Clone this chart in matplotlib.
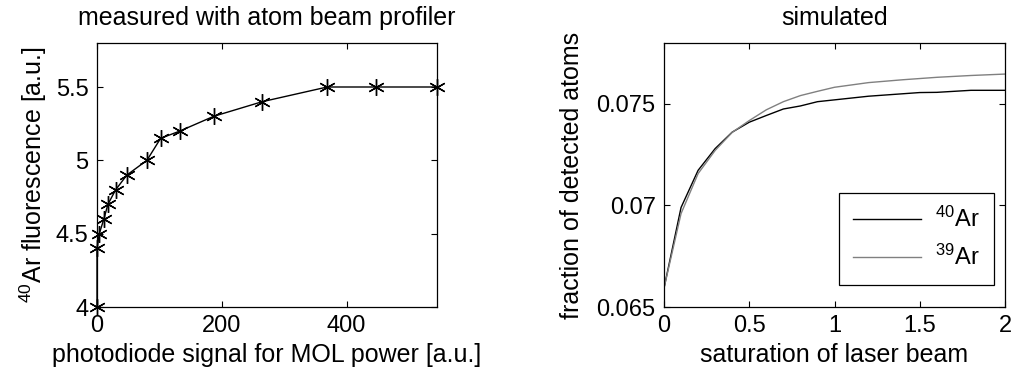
import matplotlib
matplotlib.use('Agg')
import matplotlib.pyplot as plt

plt.rcParams['font.family'] = ['Liberation Sans', 'DejaVu Sans']
plt.rcParams['mathtext.default'] = 'regular'

# ---- data, left panel (measured) ----
photodiode = [0, 0, 3.7, 11, 17.5, 30, 48, 80, 102, 133, 187, 265, 369, 448, 545]
fluo40 = [4.0, 4.4, 4.5, 4.6, 4.7, 4.8, 4.9, 5.0, 5.15, 5.2, 5.3, 5.4, 5.5, 5.5, 5.5]

# ---- data, right panel (simulated) ----
saturation = [0, 0.1, 0.2, 0.3, 0.4, 0.5, 0.6, 0.7, 0.8, 0.9, 1.0,
              1.2, 1.4, 1.5, 1.6, 1.8, 2.0]
frac40 = [0.06593, 0.0699, 0.07173, 0.0728, 0.07361, 0.0741, 0.07443, 0.07475,
          0.0749, 0.07511, 0.0752, 0.07538, 0.0755, 0.07556, 0.07557, 0.07567, 0.07567]
frac39 = [0.06593, 0.0696, 0.07157, 0.07271, 0.0736, 0.07418, 0.07471, 0.07511,
          0.07541, 0.07562, 0.07582, 0.07605, 0.07619, 0.07625, 0.07631, 0.0764, 0.07647]

W, H = 1014, 381
fs_tick = 17
fs_lab = 18
fig = plt.figure(figsize=(W / 100, H / 100), dpi=100)

ax1 = fig.add_axes([97 / W, 1 - 307 / H, 340 / W, 264 / H])
ax2 = fig.add_axes([664 / W, 1 - 307 / H, 341 / W, 264 / H])

for ax in (ax1, ax2):
    ax.tick_params(direction='in', top=True, right=True, length=4, width=0.8,
                   labelsize=fs_tick, pad=6)
    for s in ax.spines.values():
        s.set_linewidth(0.9)

# --- left ---
ax1.plot(photodiode, fluo40, '-', color='black', lw=1.0,
         marker=(6, 2, 0), markersize=12, markeredgewidth=1.0, clip_on=False)
ax1.set_xlim(0, 545)
ax1.set_ylim(4, 5.8)
ax1.set_xticks([0, 200, 400])
ax1.set_yticks([4, 4.5, 5, 5.5])
ax1.set_yticklabels(['4', '4.5', '5', '5.5'])
ax1.set_title('measured with atom beam profiler', fontsize=fs_lab, pad=13)
ax1.set_xlabel('photodiode signal for MOL power [a.u.]', fontsize=fs_lab, labelpad=4)
ax1.set_ylabel('$^{40}$Ar fluorescence [a.u.]', fontsize=fs_lab, labelpad=5)

# --- right ---
ax2.plot(saturation, frac40, '-', color='black', lw=1.0, label='$^{40}$Ar')
ax2.plot(saturation, frac39, '-', color='#808080', lw=1.0, label='$^{39}$Ar')
ax2.set_xlim(0, 2)
ax2.set_ylim(0.065, 0.078)
ax2.set_xticks([0, 0.5, 1, 1.5, 2])
ax2.set_xticklabels(['0', '0.5', '1', '1.5', '2'])
ax2.set_yticks([0.065, 0.07, 0.075])
ax2.set_yticklabels(['0.065', '0.07', '0.075'])
ax2.set_title('simulated', fontsize=fs_lab, pad=13)
ax2.set_xlabel('saturation of laser beam', fontsize=fs_lab, labelpad=4)
ax2.set_ylabel('fraction of detected atoms', fontsize=fs_lab, labelpad=9)
leg = ax2.legend(loc='lower right', bbox_to_anchor=(0.968, 0.085), frameon=True,
                 fancybox=False, edgecolor='black', framealpha=1,
                 handlelength=2.9, handletextpad=0.6, fontsize=fs_tick,
                 borderpad=0.6, labelspacing=0.55, borderaxespad=0)
leg.get_frame().set_linewidth(0.9)

fig.savefig('out.png', dpi=100)
